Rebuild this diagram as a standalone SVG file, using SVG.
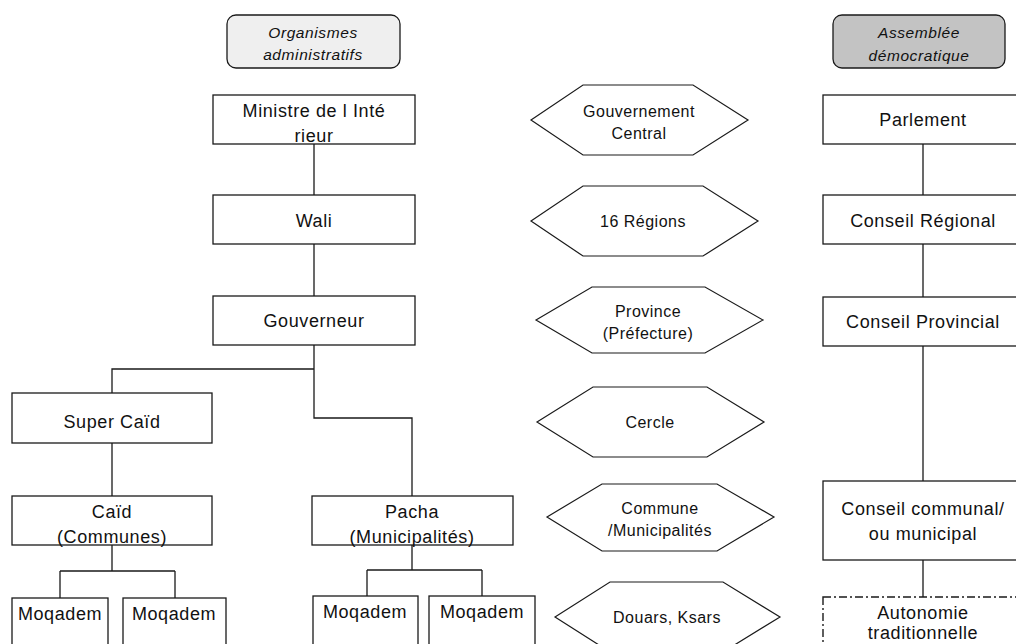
<svg xmlns="http://www.w3.org/2000/svg" width="1016" height="644" viewBox="0 0 1016 644">
  <style>
    .box { fill: #ffffff; stroke: #1a1a1a; stroke-width: 1.3; }
    .hex { fill: #ffffff; stroke: #1a1a1a; stroke-width: 1.2; }
    .head { stroke: #1a1a1a; stroke-width: 1.3; }
    .dashed { fill: #ffffff; stroke: #1a1a1a; stroke-width: 1.4; stroke-dasharray: 8 3 2 3; }
    .wire { fill: none; stroke: #1a1a1a; stroke-width: 1.3; }
    text { font-family: "Liberation Sans", Arial, sans-serif; fill: #111111; text-anchor: middle; }
    .t { font-size: 18px; letter-spacing: 0.6px; }
    .h { font-size: 16px; letter-spacing: 0.5px; }
    .i { font-size: 15.5px; font-style: italic; letter-spacing: 0.6px; }
  </style>
  <rect width="1016" height="644" fill="#ffffff"/>

  <!-- column headers -->
  <g id="hdr-admin">
    <rect class="head" x="227" y="15" width="173" height="53" rx="9" fill="#efefef"/>
    <text class="i" x="313" y="38">Organismes</text>
    <text class="i" x="313" y="60">administratifs</text>
  </g>
  <g id="hdr-assembly">
    <rect class="head" x="833" y="15" width="172" height="53" rx="9" fill="#c3c3c3"/>
    <text class="i" x="919" y="38">Assemblée</text>
    <text class="i" x="919" y="61">démocratique</text>
  </g>

  <!-- connectors -->
  <g id="connectors">
    <path class="wire" d="M314 144V195M314 244V296M314 345V418H412V496M314 369H112V393"/>
    <path class="wire" d="M112 443V496M112 545V571M60 571H175M60 571V598M175 571V598"/>
    <path class="wire" d="M412 545V570M367 570H482M367 570V596M482 570V596"/>
    <path class="wire" d="M923 144V195M923 244V297M923 346V481M923 560V597"/>
  </g>

  <!-- administrative column -->
  <g id="ministre">
    <rect class="box" x="213" y="95" width="202" height="49"/>
    <text class="t" x="314" y="117">Ministre de l  Inté</text>
    <text class="t" x="314" y="142">rieur</text>
  </g>
  <g id="wali">
    <rect class="box" x="213" y="195" width="202" height="49"/>
    <text class="t" x="314" y="227">Wali</text>
  </g>
  <g id="gouverneur">
    <rect class="box" x="213" y="296" width="202" height="49"/>
    <text class="t" x="314" y="327">Gouverneur</text>
  </g>
  <g id="super-caid">
    <rect class="box" x="12" y="393" width="200" height="50"/>
    <text class="t" x="112" y="428">Super Caïd</text>
  </g>
  <g id="caid">
    <rect class="box" x="12" y="496" width="200" height="49"/>
    <text class="t" x="112" y="518">Caïd</text>
    <text class="t" x="112" y="543">(Communes)</text>
  </g>
  <g id="pacha">
    <rect class="box" x="312" y="496" width="201" height="49"/>
    <text class="t" x="412" y="518">Pacha</text>
    <text class="t" x="412" y="543">(Municipalités)</text>
  </g>
  <g id="moqadem-1">
    <rect class="box" x="12" y="598" width="96" height="60"/>
    <text class="t" x="60" y="620">Moqadem</text>
  </g>
  <g id="moqadem-2">
    <rect class="box" x="123" y="598" width="103" height="60"/>
    <text class="t" x="174" y="620">Moqadem</text>
  </g>
  <g id="moqadem-3">
    <rect class="box" x="313" y="596" width="105" height="60"/>
    <text class="t" x="365" y="618">Moqadem</text>
  </g>
  <g id="moqadem-4">
    <rect class="box" x="429" y="596" width="106" height="60"/>
    <text class="t" x="482" y="618">Moqadem</text>
  </g>

  <!-- territorial levels -->
  <g id="lvl-central">
    <polygon class="hex" points="531,120 583,85 693,85 748,120 693,155 583,155"/>
    <text class="h" x="639" y="117">Gouvernement</text>
    <text class="h" x="639" y="139">Central</text>
  </g>
  <g id="lvl-regions">
    <polygon class="hex" points="531,221 583,186 703,186 758,221 703,256 583,256"/>
    <text class="h" x="643" y="227">16 Régions</text>
  </g>
  <g id="lvl-province">
    <polygon class="hex" points="536,320 592,287 705,287 763,320 705,353 592,353"/>
    <text class="h" x="648" y="317">Province</text>
    <text class="h" x="648" y="339">(Préfecture)</text>
  </g>
  <g id="lvl-cercle">
    <polygon class="hex" points="537,422 593,387 707,387 764,422 707,457 593,457"/>
    <text class="h" x="650" y="428">Cercle</text>
  </g>
  <g id="lvl-commune">
    <polygon class="hex" points="547,517 602,484 717,484 774,517 717,551 602,551"/>
    <text class="h" x="660" y="514">Commune</text>
    <text class="h" x="660" y="536">/Municipalités</text>
  </g>
  <g id="lvl-douars">
    <polygon class="hex" points="555,617 610,582 723,582 780,617 723,652 610,652"/>
    <text class="h" x="667" y="623">Douars, Ksars</text>
  </g>

  <!-- assembly column -->
  <g id="parlement">
    <rect class="box" x="823" y="95" width="200" height="49"/>
    <text class="t" x="923" y="126">Parlement</text>
  </g>
  <g id="conseil-regional">
    <rect class="box" x="823" y="195" width="200" height="49"/>
    <text class="t" x="923" y="227">Conseil Régional</text>
  </g>
  <g id="conseil-provincial">
    <rect class="box" x="823" y="297" width="200" height="49"/>
    <text class="t" x="923" y="328">Conseil Provincial</text>
  </g>
  <g id="conseil-communal">
    <rect class="box" x="823" y="481" width="200" height="79"/>
    <text class="t" x="923" y="515">Conseil communal/</text>
    <text class="t" x="923" y="540">ou municipal</text>
  </g>
  <g id="autonomie">
    <rect class="dashed" x="823" y="597" width="200" height="60"/>
    <text class="t" x="923" y="619">Autonomie</text>
    <text class="t" x="923" y="639">traditionnelle</text>
  </g>
</svg>
